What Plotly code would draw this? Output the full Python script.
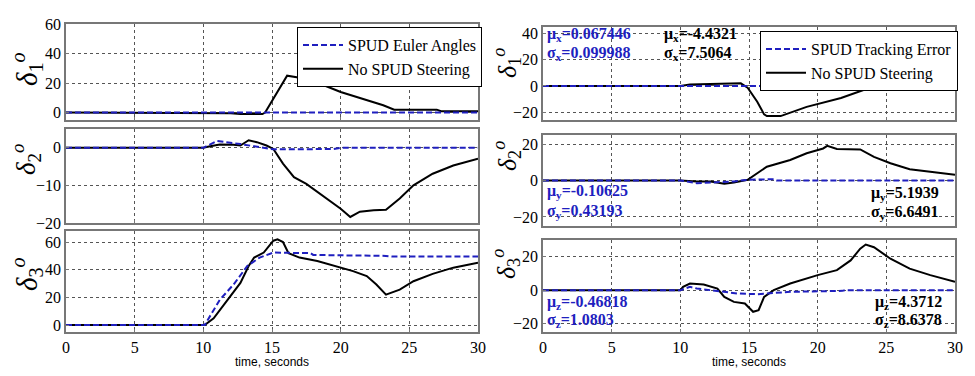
import plotly.graph_objects as go

W, H = 975, 376

# ---------------- data ----------------
time_ticks = [0, 5, 10, 15, 20, 25, 30]

# Left column: Euler angles
t_L1_nospud = [0, 10, 12, 12.7, 14.3, 14.5, 15.1, 15.7, 16.1, 16.8, 18.5, 20, 21.9, 23.1, 23.9, 27, 27.3, 30]
v_L1_nospud = [0, 0, -0.5, -1, -1, 0, 9.6, 18.6, 25, 24, 19.5, 14, 8.5, 5, 2, 2, 1, 1]
t_L1_spud = [0, 10, 30]
v_L1_spud = [0, 0, 0]

t_L2_nospud = [0, 10, 10.5, 11.2, 12.2, 12.7, 13.3, 13.9, 14.6, 15.1, 15.8, 16.6, 17.5, 19, 20, 20.7, 21.4, 22.4, 23.3, 24.3, 25.3, 26.7, 28.2, 30]
v_L2_nospud = [0, 0, 0.4, 0.9, 0.8, 0.6, 2, 1.5, 0.6, -0.3, -4.2, -7.8, -9.6, -13.5, -16.2, -18.4, -17, -16.6, -16.5, -13.5, -10, -6.9, -4.7, -2.9]
t_L2_spud = [0, 10, 11, 11.7, 12.7, 13.7, 14.6, 15.1, 17, 19.5, 20, 30]
v_L2_spud = [0, 0, 1.8, 1.5, 1, 0.4, 0, -0.4, -0.4, -0.3, 0, 0]

t_L3_nospud = [0, 10.1, 10.75, 11.7, 12.7, 13.3, 13.7, 14.4, 15.1, 15.4, 15.8, 16.2, 17, 18.3, 20, 20.9, 21.9, 22.6, 23.3, 24.3, 25.3, 26.7, 28.2, 30]
v_L3_nospud = [0, 0, 4.9, 17, 30.5, 42.7, 48.8, 52.4, 61, 62, 60, 52, 48.8, 46.3, 41.5, 39, 35.4, 29.3, 22, 25.6, 31.7, 37, 41.5, 45.1]
t_L3_spud = [0, 10.1, 11.2, 12.2, 13.2, 14.1, 15.1, 16.3, 17.8, 18, 20, 23.3, 23.8, 30]
v_L3_spud = [0, 0, 18.3, 29.3, 42.7, 48.8, 52.4, 52.4, 52, 50.7, 50.5, 50, 49.5, 49.5]

# Right column: tracking error
t_R1_nospud = [0, 10, 10.7, 13.2, 14.4, 14.9, 15.6, 16.1, 16.3, 17.3, 19.2, 21.7, 22.9, 23.8, 25.3, 27.2, 27.6, 30]
v_R1_nospud = [0, 0, 1.1, 2, 2, -1.4, -12, -21.7, -23, -23, -16, -9.2, -5, -1.4, -0.8, -1.4, -0.5, -0.3]
t_R1_spud = [0, 10, 30]
v_R1_spud = [0, 0, 0]

t_R2_nospud = [0, 10, 11.2, 12.2, 13.2, 13.9, 14.9, 15.6, 16.3, 18, 19.2, 20.4, 20.7, 21.4, 23.1, 24.1, 25.3, 26.7, 28.2, 30]
v_R2_nospud = [0, 0, -0.5, -0.5, -1.8, -1.1, 0.4, 4, 7.6, 11.3, 15, 17.6, 19, 17.3, 17.1, 13, 9.5, 6.2, 4.9, 3.1]
t_R2_spud = [0, 10, 11.2, 12.7, 13.9, 14.9, 16.8, 17, 30]
v_R2_spud = [0, 0, -1.5, -1.1, -0.5, 0.4, 0.7, 0, 0]

t_R3_nospud = [0, 10, 10.2, 10.7, 11.7, 12.7, 13.2, 13.9, 14.7, 15.3, 15.7, 16.1, 16.8, 18, 20, 21.4, 22.4, 23.1, 23.5, 24.1, 25.3, 26.7, 28.2, 30]
v_R3_nospud = [0, 0, 2, 4, 3.4, 1, -4, -7, -8, -12.9, -12, -4, 0, 4, 9, 12, 17.8, 24.8, 27.3, 25.7, 18.8, 12.9, 9, 5]
t_R3_spud = [0, 10, 10.7, 11.2, 12.2, 13.2, 14.2, 15.6, 16.5, 18, 21.8, 22, 30]
v_R3_spud = [0, 0, 2, 1, 0, -1, -2, -2.4, -2, -1, -0.4, 0, 0]

y_ranges = [[-5, 60], [-20, 5], [-5, 68], [-26, 45], [-25, 25], [-25, 30]]
y_ticks = [[0, 20, 40, 60], [-20, -10, 0], [0, 20, 40, 60], [-20, 0, 20, 40], [-20, 0, 20], [-20, 0, 20]]

stats_spud = [("x", "0.067446", "0.099988"), ("y", "-0.10625", "0.43193"), ("z", "-0.46818", "1.0803")]
stats_nospud = [("x", "-4.4321", "7.5064"), ("y", "5.1939", "6.6491"), ("z", "4.3712", "8.6378")]

# ---------------- layout helpers ----------------
def px_x(p):
    return p / W

def px_y(p):
    return 1 - p / H

# pixel boxes (x0, x1, ytop, ybottom)
boxes = [
    (66, 478, 24, 120), (66, 478, 129, 223), (66, 478, 231, 332),
    (543, 955, 27, 120), (543, 955, 135, 226), (543, 955, 240, 332),
]
# y-label centres (x, y, size)
ylab_pos = [(27, 69, 29), (26, 160, 27), (27, 274, 29),
            (507, 63, 26), (507, 156, 26), (506, 264, 26)]

BLUE = "#1f1fbf"
SERIF = "Liberation Serif"
DASH = "6px,3px"

fig = go.Figure()

series = [
    (t_L1_spud, v_L1_spud, t_L1_nospud, v_L1_nospud, "SPUD Euler Angles", "legend"),
    (t_L2_spud, v_L2_spud, t_L2_nospud, v_L2_nospud, None, None),
    (t_L3_spud, v_L3_spud, t_L3_nospud, v_L3_nospud, None, None),
    (t_R1_spud, v_R1_spud, t_R1_nospud, v_R1_nospud, "SPUD Tracking Error", "legend2"),
    (t_R2_spud, v_R2_spud, t_R2_nospud, v_R2_nospud, None, None),
    (t_R3_spud, v_R3_spud, t_R3_nospud, v_R3_nospud, None, None),
]

for i, (ts, vs, tn, vn, lname, leg) in enumerate(series):
    k = "" if i == 0 else str(i + 1)
    show = lname is not None
    fig.add_trace(go.Scatter(x=tn, y=vn, mode="lines", line=dict(color="black", width=2),
                             name="No SPUD Steering", showlegend=show, legend=leg if leg else "legend",
                             xaxis="x" + k, yaxis="y" + k))
    fig.add_trace(go.Scatter(x=ts, y=vs, mode="lines", line=dict(color=BLUE, width=2, dash=DASH),
                             name=lname if lname else "", showlegend=show, legend=leg if leg else "legend",
                             xaxis="x" + k, yaxis="y" + k))

layout = dict(
    template="none",
    width=W, height=H, margin=dict(l=0, r=0, t=0, b=0, autoexpand=False),
    paper_bgcolor="white", plot_bgcolor="white", showlegend=True,
    font=dict(family=SERIF, size=14, color="black"),
    legend=dict(x=px_x(297), y=px_y(27), xanchor="left", yanchor="top",
                bordercolor="black", borderwidth=1, bgcolor="white", traceorder="reversed",
                font=dict(family=SERIF, size=16), tracegroupgap=0, itemwidth=40),
    legend2=dict(x=px_x(760), y=px_y(31), xanchor="left", yanchor="top",
                 bordercolor="black", borderwidth=1, bgcolor="white", traceorder="reversed",
                 font=dict(family=SERIF, size=16), tracegroupgap=0, itemwidth=40),
)

annotations = []
for i, (x0, x1, yt, yb) in enumerate(boxes):
    k = "" if i == 0 else str(i + 1)
    bottom = i in (2, 5)
    layout["xaxis" + k] = dict(
        domain=[px_x(x0), px_x(x1)], anchor="y" + k, range=[0, 30], tickvals=time_ticks,
        showticklabels=bottom, showgrid=True, gridcolor="#555", griddash="dot", gridwidth=1,
        showline=True, linecolor="#777", linewidth=1.5, mirror=True, zeroline=False,
        ticks="inside", ticklen=3, tickcolor="#777", automargin=False,
        tickfont=dict(family=SERIF, size=16, color="black"),
    )
    layout["yaxis" + k] = dict(
        domain=[px_y(yb), px_y(yt)], anchor="x" + k, range=y_ranges[i], tickvals=y_ticks[i],
        showgrid=True, gridcolor="#555", griddash="dot", gridwidth=1,
        showline=True, linecolor="#777", linewidth=1.5, mirror=True, zeroline=False,
        ticks="inside", ticklen=3, tickcolor="#777", automargin=False,
        tickfont=dict(family=SERIF, size=16, color="black"),
    )
    idx = (i % 3) + 1
    lx, ly, ls = ylab_pos[i]
    annotations.append(dict(
        x=px_x(lx), y=px_y(ly), xref="paper", yref="paper",
        text=f"<i>δ</i><sub>{idx}</sub><sup><i>o</i></sup>", showarrow=False, textangle=-90,
        font=dict(family=SERIF, size=ls, color="black"), xanchor="center", yanchor="middle"))
    if bottom:
        annotations.append(dict(
            x=px_x((x0 + x1) / 2), y=px_y(362), xref="paper", yref="paper",
            text="time, seconds", showarrow=False, xanchor="center", yanchor="middle",
            font=dict(family="Liberation Sans", size=12, color="black")))

stat_pos = [  # (blue mu y, blue sigma y, black x, black mu y, black sigma y)
    (34, 53, 662, 34, 53),
    (192, 211, 869, 193, 212),
    (302, 320, 873, 302, 320),
]
for j in range(3):
    ax, mu, sd = stats_spud[j]
    _, mu2, sd2 = stats_nospud[j]
    by1, by2, kx, ky1, ky2 = stat_pos[j]
    for txt, xx, yy, col in [
        (f"μ<sub>{ax}</sub>={mu}", 545, by1, BLUE),
        (f"σ<sub>{ax}</sub>={sd}", 545, by2, BLUE),
        (f"μ<sub>{ax}</sub>={mu2}", kx, ky1, "black"),
        (f"σ<sub>{ax}</sub>={sd2}", kx, ky2, "black"),
    ]:
        annotations.append(dict(
            x=px_x(xx), y=px_y(yy), xref="paper", yref="paper", text=f"<b>{txt}</b>",
            showarrow=False, xanchor="left", yanchor="middle",
            font=dict(family=SERIF, size=16, color=col)))

layout["annotations"] = annotations
fig.update_layout(**layout)
fig.write_html("out.html", config={"displayModeBar": False},
               post_script="document.body.style.margin='0';document.body.style.overflow='hidden';")
